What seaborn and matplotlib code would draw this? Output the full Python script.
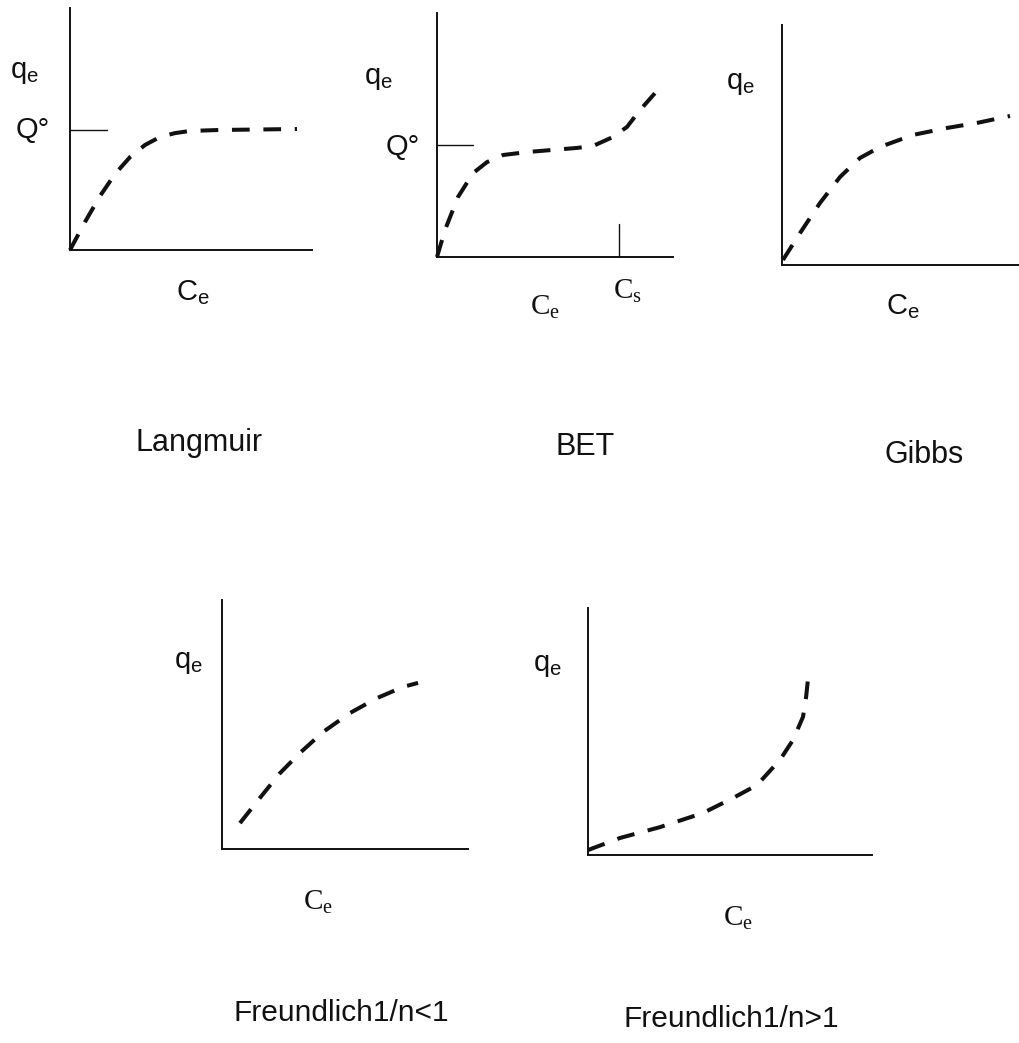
import matplotlib
matplotlib.use("Agg")
import matplotlib.pyplot as plt
import seaborn as sns
import numpy as np

sns.set_style("white")
plt.rcParams['font.family'] = ['Liberation Sans', 'DejaVu Sans']
plt.rcParams['mathtext.fontset'] = 'custom'
plt.rcParams['mathtext.rm'] = 'Liberation Sans'

W, H = 1019, 1043

# ---- data (arbitrary units, 0..10 per panel) ----
langmuir_x = [0, 0.62, 1.24, 1.86, 2.48, 3.10, 3.72, 4.34, 4.96, 6.2, 7.85, 9.38]
langmuir_y = [0, 1.16, 2.23, 3.14, 3.84, 4.34, 4.67, 4.83, 4.92, 4.96, 4.98, 5.0]
langmuir_q0 = 4.96

bet_x = [0, 0.34, 0.89, 1.53, 2.12, 2.80, 3.81, 4.92, 5.93, 6.61, 7.46, 8.05, 8.60, 9.24]
bet_y = [0, 1.11, 2.46, 3.44, 3.89, 4.18, 4.30, 4.39, 4.47, 4.55, 4.92, 5.33, 6.02, 6.72]
bet_q0 = 4.59
bet_cs = 7.71

gibbs_x = [0.04, 0.76, 1.60, 2.45, 3.29, 4.14, 5.53, 6.96, 8.23, 9.62]
gibbs_y = [0.21, 1.33, 2.58, 3.67, 4.46, 4.92, 5.42, 5.71, 5.92, 6.21]

fr_lt_x = [0.73, 1.54, 2.36, 3.17, 4.11, 5.20, 6.30, 7.36, 7.97]
fr_lt_y = [1.04, 2.05, 3.05, 3.86, 4.70, 5.46, 6.06, 6.51, 6.67]

fr_gt_x = [0, 1.13, 2.54, 4.05, 5.11, 5.95, 6.76, 7.22, 7.57, 7.68, 7.78]
fr_gt_y = [0.2, 0.69, 1.13, 1.70, 2.31, 2.83, 3.85, 4.66, 5.59, 6.40, 7.49]

titles = ["Langmuir", "BET", "Gibbs", "Freundlich1/n<1", "Freundlich1/n>1"]

fig = plt.figure(figsize=(W / 100, H / 100), dpi=100)
fig.patch.set_facecolor('white')

def make_ax(x0, x1, ytop, ybot):
    ax = fig.add_axes([x0 / W, 1 - ybot / H, (x1 - x0) / W, (ybot - ytop) / H])
    ax.set_xlim(0, 10)
    ax.set_ylim(0, 10)
    ax.set_xticks([])
    ax.set_yticks([])
    for s in ['top', 'right']:
        ax.spines[s].set_visible(False)
    for s in ['left', 'bottom']:
        ax.spines[s].set_color('#111111')
        ax.spines[s].set_linewidth(1.4)
    ax.patch.set_alpha(0)
    return ax

def curve(ax, x, y):
    sns.lineplot(x=x, y=y, ax=ax, color='#111111', linewidth=2.9, sort=False,
                 estimator=None)
    ln = ax.lines[-1]
    ln.set_linestyle((0, (4.4, 3.4)))
    ln.set_dash_capstyle('butt')
    ln.set_clip_on(False)

def txt(x, y, s, size=21, family=None, **kw):
    fam = family if family else ['Liberation Sans', 'DejaVu Sans']
    fig.text(x / W, 1 - y / H, s, fontsize=size, family=fam,
             ha='center', va='center', color='#111111', **kw)

# Langmuir
ax1 = make_ax(70, 312, 8, 250)
curve(ax1, langmuir_x, langmuir_y)
ax1.plot([0, 1.53], [langmuir_q0, langmuir_q0], color='#111111', lw=1.0, clip_on=False)
txt(24, 72, r'q$_\mathregular{e}$')
txt(33, 130, 'Q°')
txt(193, 293, r'C$_\mathregular{e}$')

# BET
ax2 = make_ax(437, 673, 13, 257)
curve(ax2, bet_x, bet_y)
ax2.plot([0, 1.53], [bet_q0, bet_q0], color='#111111', lw=1.0, clip_on=False)
ax2.plot([bet_cs, bet_cs], [0, 1.35], color='#111111', lw=1.0, clip_on=False)
txt(378, 78, r'q$_\mathregular{e}$')
txt(403, 147, 'Q°')
txt(545, 307, r'C$_\mathregular{e}$', family=['Liberation Serif'])
txt(627, 291, r'C$_\mathregular{s}$', family=['Liberation Serif'])

# Gibbs
ax3 = make_ax(782, 1019, 25, 265)
curve(ax3, gibbs_x, gibbs_y)
txt(740, 83, r'q$_\mathregular{e}$')
txt(903, 307, r'C$_\mathregular{e}$')

# Freundlich 1/n<1
ax4 = make_ax(222, 468, 600, 849)
curve(ax4, fr_lt_x, fr_lt_y)
txt(188, 662, r'q$_\mathregular{e}$')
txt(318, 902, r'C$_\mathregular{e}$', family=['Liberation Serif'])

# Freundlich 1/n>1
ax5 = make_ax(588, 872, 608, 855)
curve(ax5, fr_gt_x, fr_gt_y)
txt(547, 665, r'q$_\mathregular{e}$')
txt(738, 918, r'C$_\mathregular{e}$', family=['Liberation Serif'])

# Titles
txt(199, 443, titles[0], size=22)
txt(585, 447, titles[1], size=22)
txt(924, 455, titles[2], size=22)
txt(341, 1013, titles[3], size=21.5)
txt(731, 1019, titles[4], size=21.5)

fig.savefig("out.png", dpi=100, facecolor='white')
